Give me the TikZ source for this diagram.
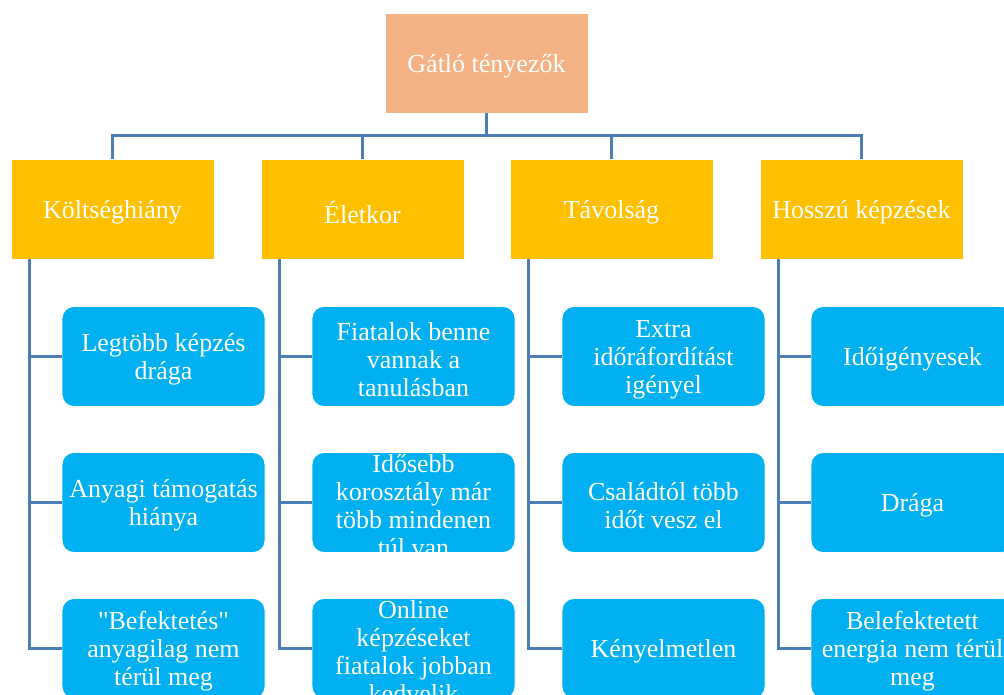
\documentclass[tikz,border=0pt]{standalone}
\usepackage{fontspec}
\setmainfont{Liberation Serif}[Ligatures=TeXOff]
\usepackage{tikz}
\definecolor{gatlo}{RGB}{244,177,131}
\definecolor{category}{RGB}{255,192,0}
\definecolor{item}{RGB}{0,176,240}
\definecolor{wirecolor}{RGB}{74,126,180}
\newcommand{\boxlines}[1]{\raisebox{-3pt}[0pt][0pt]{\makebox[190pt]{\vbox to 0pt{\vss\hsize=260pt\parindent=0pt\centering #1\par\vss}}}}
\tikzset{
  topbox/.style={fill=gatlo, draw=white, line width=0.8pt, minimum width=203pt, minimum height=100pt,
    inner sep=0pt, text=white, font=\fontsize{26}{28}\selectfont},
  catbox/.style={topbox, fill=category},
  itembox/.style={topbox, fill=item, rounded corners=12pt},
  wire/.style={color=wirecolor, line width=2.8pt},
}
\begin{document}
\begin{tikzpicture}[x=1pt,y=-1pt]
\useasboundingbox (0,0) rectangle (1004,695);
\clip (0,0) rectangle (1004,695);
% Drawing boxes
% Line 1: root
\node[topbox] (gatlo) at (486.5,63) {\boxlines{Gátló tényezők}};
% Line 2: categories
\node[catbox] (koltseg) at (112.5,209) {\boxlines{Költséghiány}};
\node[catbox] (eletkor) at (362.5,209) {\boxlines{Életkor}};
\node[catbox] (tavolsag) at (611.5,209) {\boxlines{Távolság}};
\node[catbox] (hosszu) at (861.5,209) {\boxlines{Hosszú képzések}};
% Line 3: Költséghiány
\node[itembox] (koltseg1) at (163.5,356.5) {\boxlines{Legtöbb képzés\\drága}};
\node[itembox] (koltseg2) at (163.5,502.5) {\boxlines{Anyagi támogatás\\hiánya}};
\node[itembox] (koltseg3) at (163.5,648.5) {\boxlines{"Befektetés"\\anyagilag nem\\térül meg}};
% Line 4: Életkor
\node[itembox] (eletkor1) at (413.5,356.5) {\boxlines{Fiatalok benne\\vannak a\\tanulásban}};
\node[itembox] (eletkor2) at (413.5,502.5) {\boxlines{Idősebb\\korosztály már\\több mindenen\\túl van}};
\node[itembox] (eletkor3) at (413.5,648.5) {\boxlines{Online\\képzéseket\\fiatalok jobban\\kedvelik}};
% Line 5: Távolság
\node[itembox] (tavolsag1) at (663.5,356.5) {\boxlines{Extra\\időráfordítást\\igényel}};
\node[itembox] (tavolsag2) at (663.5,502.5) {\boxlines{Családtól több\\időt vesz el}};
\node[itembox] (tavolsag3) at (663.5,648.5) {\boxlines{Kényelmetlen}};
% Line 6: Hosszú képzések
\node[itembox] (hosszu1) at (912.5,356.5) {\boxlines{Időigényesek}};
\node[itembox] (hosszu2) at (912.5,502.5) {\boxlines{Drága}};
\node[itembox] (hosszu3) at (912.5,648.5) {\boxlines{Belefektetett\\energia nem térül\\meg}};
% Done with boxes; drawing wires
\draw[wire] (gatlo.south) -- ++(0,22) -| (koltseg.north);
\draw[wire] (gatlo.south) -- ++(0,22) -| (eletkor.north);
\draw[wire] (gatlo.south) -- ++(0,22) -| (tavolsag.north);
\draw[wire] (gatlo.south) -- ++(0,22) -| (hosszu.north);
\draw[wire] ([xshift=18.5pt]koltseg.south west) |- (koltseg3.west);
\draw[wire] ([xshift=18.5pt]koltseg.south west) |- (koltseg2.west);
\draw[wire] ([xshift=18.5pt]koltseg.south west) |- (koltseg1.west);
\draw[wire] ([xshift=18.5pt]eletkor.south west) |- (eletkor3.west);
\draw[wire] ([xshift=18.5pt]eletkor.south west) |- (eletkor2.west);
\draw[wire] ([xshift=18.5pt]eletkor.south west) |- (eletkor1.west);
\draw[wire] ([xshift=18.5pt]tavolsag.south west) |- (tavolsag3.west);
\draw[wire] ([xshift=18.5pt]tavolsag.south west) |- (tavolsag2.west);
\draw[wire] ([xshift=18.5pt]tavolsag.south west) |- (tavolsag1.west);
\draw[wire] ([xshift=18.5pt]hosszu.south west) |- (hosszu3.west);
\draw[wire] ([xshift=18.5pt]hosszu.south west) |- (hosszu2.west);
\draw[wire] ([xshift=18.5pt]hosszu.south west) |- (hosszu1.west);
% Done with wires
\end{tikzpicture}
\end{document}
